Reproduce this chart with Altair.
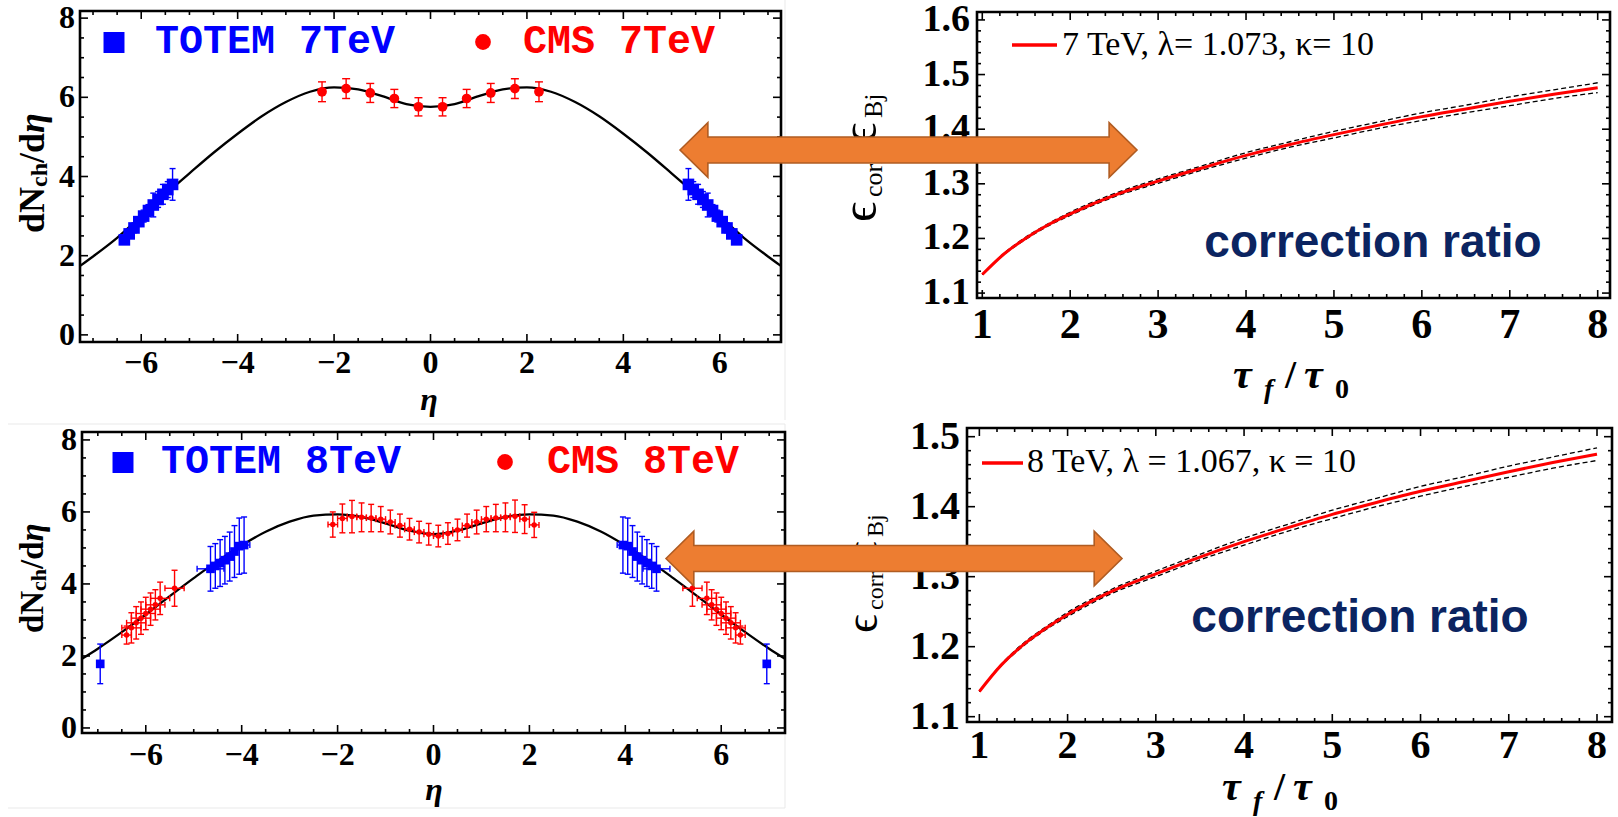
import altair as alt
import pandas as pd

SERIF = "Liberation Serif"
MONO = "Liberation Mono"
SANS = "Liberation Sans"
BLUE = "#0000ff"
RED = "#ff0000"
NAVY = "#0b2461"
ORANGE = "#ed7d31"
ORANGE_EDGE = "#b05c22"

# ---------------- top-left: 7 TeV ----------------
curve7_eta = [-7.27, -7.0, -6.5, -6.0, -5.5, -5.0, -4.5, -4.0, -3.5, -3.0, -2.5, -2.0, -1.5, -1.0, -0.5, 0.0,
              0.5, 1.0, 1.5, 2.0, 2.5, 3.0, 3.5, 4.0, 4.5, 5.0, 5.5, 6.0, 6.5, 7.0, 7.27]
curve7_val = [1.74, 1.98, 2.45, 3.0, 3.55, 4.08, 4.6, 5.08, 5.52, 5.88, 6.14, 6.25, 6.2, 6.03, 5.83, 5.76,
              5.83, 6.03, 6.2, 6.25, 6.14, 5.88, 5.52, 5.08, 4.6, 4.08, 3.55, 3.0, 2.45, 1.98, 1.74]
cms7_eta = [-2.25, -1.75, -1.25, -0.75, -0.25, 0.25, 0.75, 1.25, 1.75, 2.25]
cms7_val = [6.14, 6.22, 6.11, 5.97, 5.76, 5.76, 5.97, 6.11, 6.22, 6.14]
cms7_err = [0.25, 0.25, 0.24, 0.23, 0.23, 0.23, 0.23, 0.24, 0.25, 0.25]
totem7_eta = [-6.35, -6.25, -6.15, -6.05, -5.95, -5.85, -5.75, -5.65, -5.55, -5.45, -5.35,
              5.35, 5.45, 5.55, 5.65, 5.75, 5.85, 5.95, 6.05, 6.15, 6.25, 6.35]
totem7_val = [2.40, 2.55, 2.70, 2.86, 3.00, 3.14, 3.28, 3.42, 3.55, 3.67, 3.80,
              3.80, 3.67, 3.55, 3.42, 3.28, 3.14, 3.00, 2.86, 2.70, 2.55, 2.40]
totem7_err = [0.10, 0.10, 0.12, 0.12, 0.15, 0.15, 0.30, 0.20, 0.25, 0.20, 0.40,
              0.40, 0.20, 0.25, 0.20, 0.30, 0.15, 0.15, 0.12, 0.12, 0.10, 0.10]

# ---------------- bottom-left: 8 TeV ----------------
curve8_eta = [-7.33, -7.0, -6.5, -6.0, -5.5, -5.0, -4.5, -4.0, -3.5, -3.0, -2.5, -2.0, -1.5, -1.0, -0.5, 0.0,
              0.5, 1.0, 1.5, 2.0, 2.5, 3.0, 3.5, 4.0, 4.5, 5.0, 5.5, 6.0, 6.5, 7.0, 7.33]
curve8_val = [1.92, 2.2, 2.66, 3.15, 3.66, 4.16, 4.64, 5.07, 5.45, 5.73, 5.9, 5.93, 5.86, 5.68, 5.48, 5.38,
              5.48, 5.68, 5.86, 5.93, 5.9, 5.73, 5.45, 5.07, 4.64, 4.16, 3.66, 3.15, 2.66, 2.2, 1.92]
cms8c_eta = [-2.1, -1.9, -1.7, -1.5, -1.3, -1.1, -0.9, -0.7, -0.5, -0.3, -0.1,
             0.1, 0.3, 0.5, 0.7, 0.9, 1.1, 1.3, 1.5, 1.7, 1.9, 2.1]
cms8c_val = [5.65, 5.82, 5.87, 5.85, 5.83, 5.80, 5.72, 5.62, 5.52, 5.44, 5.38,
             5.33, 5.40, 5.50, 5.62, 5.72, 5.80, 5.83, 5.85, 5.88, 5.80, 5.64]
cms8c_err = [0.35, 0.40, 0.45, 0.40, 0.38, 0.35, 0.33, 0.32, 0.30, 0.30, 0.30,
             0.30, 0.30, 0.30, 0.32, 0.33, 0.35, 0.38, 0.40, 0.45, 0.40, 0.35]
cms8c_xerr = [0.1] * 22
cms8f_eta = [-6.4, -6.3, -6.2, -6.1, -6.0, -5.9, -5.8, -5.7, -5.4,
             5.4, 5.7, 5.8, 5.9, 6.0, 6.1, 6.2, 6.3, 6.4]
cms8f_val = [2.58, 2.78, 2.92, 3.05, 3.18, 3.30, 3.42, 3.60, 3.88,
             3.88, 3.60, 3.42, 3.30, 3.18, 3.05, 2.92, 2.78, 2.58]
cms8f_err = [0.25, 0.42, 0.45, 0.45, 0.45, 0.45, 0.42, 0.45, 0.50,
             0.50, 0.45, 0.42, 0.45, 0.45, 0.45, 0.45, 0.42, 0.25]
cms8f_xerr = [0.1, 0.2, 0.2, 0.2, 0.2, 0.2, 0.2, 0.2, 0.2,
              0.2, 0.2, 0.2, 0.2, 0.2, 0.2, 0.2, 0.2, 0.1]
totem8_eta = [-6.95, -4.65, -4.55, -4.45, -4.35, -4.25, -4.15, -4.05, -3.95,
              3.95, 4.05, 4.15, 4.25, 4.35, 4.45, 4.55, 4.65, 6.95]
totem8_val = [1.78, 4.42, 4.50, 4.58, 4.66, 4.76, 4.90, 5.05, 5.08,
              5.08, 5.05, 4.90, 4.76, 4.66, 4.58, 4.50, 4.42, 1.78]
totem8_err = [0.55, 0.62, 0.62, 0.65, 0.66, 0.68, 0.72, 0.78, 0.78,
              0.78, 0.78, 0.72, 0.68, 0.66, 0.65, 0.62, 0.62, 0.55]
totem8_xerr = [0.0, 0.28, 0.05, 0.05, 0.05, 0.05, 0.05, 0.05, 0.12,
               0.12, 0.05, 0.05, 0.05, 0.05, 0.05, 0.05, 0.28, 0.0]

# ---------------- right: correction ratio vs tau_f/tau_0 ----------------
tau = [1, 1.25, 1.5, 1.75, 2, 2.5, 3, 3.5, 4, 4.5, 5, 5.5, 6, 6.5, 7, 7.5, 8]
r7 = [1.134, 1.172, 1.201, 1.225, 1.245, 1.279, 1.305, 1.329, 1.352, 1.372, 1.390, 1.407, 1.423, 1.437, 1.451, 1.464, 1.476]
r7_hi = [1.134, 1.173, 1.203, 1.227, 1.248, 1.282, 1.309, 1.333, 1.357, 1.377, 1.396, 1.413, 1.430, 1.444, 1.459, 1.472, 1.485]
r7_lo = [1.134, 1.171, 1.199, 1.223, 1.242, 1.276, 1.301, 1.325, 1.347, 1.367, 1.384, 1.401, 1.416, 1.430, 1.443, 1.456, 1.467]
r8 = [1.136, 1.174, 1.203, 1.226, 1.246, 1.279, 1.304, 1.328, 1.350, 1.370, 1.389, 1.406, 1.422, 1.436, 1.450, 1.463, 1.475]
r8_hi = [1.136, 1.175, 1.205, 1.228, 1.249, 1.282, 1.308, 1.332, 1.355, 1.375, 1.395, 1.412, 1.429, 1.443, 1.458, 1.471, 1.484]
r8_lo = [1.136, 1.173, 1.201, 1.224, 1.243, 1.276, 1.300, 1.324, 1.345, 1.365, 1.383, 1.400, 1.415, 1.429, 1.442, 1.455, 1.466]

# ---------------- ticks & labels ----------------
eta_major = [-6, -4, -2, 0, 2, 4, 6]
eta_labels = ["\u22126", "\u22124", "\u22122", "0", "2", "4", "6"]
eta_minor = [-7, -6.5, -5.5, -5, -4.5, -3.5, -3, -2.5, -1.5, -1, -0.5, 0.5, 1, 1.5, 2.5, 3, 3.5, 4.5, 5, 5.5, 6.5, 7]
dn_major = [0, 2, 4, 6, 8]
dn_labels = ["0", "2", "4", "6", "8"]
dn_minor = [0.5, 1, 1.5, 2.5, 3, 3.5, 4.5, 5, 5.5, 6.5, 7, 7.5]
tau_major = [1, 2, 3, 4, 5, 6, 7, 8]
tau_labels = ["1", "2", "3", "4", "5", "6", "7", "8"]
tau_minor = [1.2, 1.4, 1.6, 1.8, 2.2, 2.4, 2.6, 2.8, 3.2, 3.4, 3.6, 3.8, 4.2, 4.4, 4.6, 4.8,
             5.2, 5.4, 5.6, 5.8, 6.2, 6.4, 6.6, 6.8, 7.2, 7.4, 7.6, 7.8]
ratio7_major = [1.1, 1.2, 1.3, 1.4, 1.5, 1.6]
ratio7_labels = ["1.1", "1.2", "1.3", "1.4", "1.5", "1.6"]
ratio7_minor = [1.12, 1.14, 1.16, 1.18, 1.22, 1.24, 1.26, 1.28, 1.32, 1.34, 1.36, 1.38,
                1.42, 1.44, 1.46, 1.48, 1.52, 1.54, 1.56, 1.58]
ratio8_major = [1.1, 1.2, 1.3, 1.4, 1.5]
ratio8_labels = ["1.1", "1.2", "1.3", "1.4", "1.5"]
ratio8_minor = [1.12, 1.14, 1.16, 1.18, 1.22, 1.24, 1.26, 1.28, 1.32, 1.34, 1.36, 1.38,
                1.42, 1.44, 1.46, 1.48]

legend_tl = ["TOTEM 7TeV", "CMS 7TeV"]
legend_bl = ["TOTEM 8TeV", "CMS 8TeV"]
legend_tr = "7 TeV, \u03bb= 1.073, \u03ba= 10"
legend_br = "8 TeV, \u03bb = 1.067, \u03ba = 10"
note_text = "correction ratio"

# ---------------- panel geometry (pixels) ----------------
P_TL = dict(x0=80, x1=781, y0=11, y1=342, xd=[-7.27, 7.27], yd=[-0.18, 8.18])
P_BL = dict(x0=82, x1=785, y0=432, y1=733, xd=[-7.33, 7.33], yd=[-0.14, 8.22])
P_TR = dict(x0=977, x1=1610, y0=12, y1=298, xd=[0.94, 8.14], yd=[1.091, 1.6145])
P_BR = dict(x0=967, x1=1612, y0=428, y1=722, xd=[0.86, 8.17], yd=[1.0924, 1.5124])


def xs(p):
    return alt.Scale(domain=p["xd"], range=[p["x0"], p["x1"]], nice=False, zero=False)


def ys(p):
    return alt.Scale(domain=p["yd"], range=[p["y1"], p["y0"]], nice=False, zero=False)


def ex(p, f="x"):
    return alt.X(f"{f}:Q", scale=xs(p), axis=None)


def ey(p, f="y"):
    return alt.Y(f"{f}:Q", scale=ys(p), axis=None)


def one():
    return pd.DataFrame({"a": [0]})


def frame(p, xmaj, xmin, ymaj, ymin, L=8, l=4):
    out = []
    for vals, ln in ((xmaj, L), (xmin, l)):
        d = pd.DataFrame({"x": vals})
        out.append(alt.Chart(d).mark_rule(color="black", strokeWidth=1.6).encode(
            x=ex(p), y=alt.value(p["y1"]), y2=alt.value(p["y1"] - ln)))
        out.append(alt.Chart(d).mark_rule(color="black", strokeWidth=1.6).encode(
            x=ex(p), y=alt.value(p["y0"]), y2=alt.value(p["y0"] + ln)))
    for vals, ln in ((ymaj, L), (ymin, l)):
        d = pd.DataFrame({"y": vals})
        out.append(alt.Chart(d).mark_rule(color="black", strokeWidth=1.6).encode(
            y=ey(p), x=alt.value(p["x0"]), x2=alt.value(p["x0"] + ln)))
        out.append(alt.Chart(d).mark_rule(color="black", strokeWidth=1.6).encode(
            y=ey(p), x=alt.value(p["x1"]), x2=alt.value(p["x1"] - ln)))
    out.append(alt.Chart(one()).mark_rect(fill="white", fillOpacity=0, stroke="black", strokeWidth=2.6).encode(
        x=alt.value(p["x0"]), x2=alt.value(p["x1"]), y=alt.value(p["y0"]), y2=alt.value(p["y1"])))
    return out


def xlabels(p, vals, labs, ypix, size):
    d = pd.DataFrame({"x": vals, "t": labs})
    return alt.Chart(d).mark_text(font=SERIF, fontWeight="bold", fontSize=size, align="center",
                                  baseline="middle", color="black").encode(
        x=ex(p), y=alt.value(ypix), text="t:N")


def ylabels(p, vals, labs, xpix, size):
    d = pd.DataFrame({"y": vals, "t": labs})
    return alt.Chart(d).mark_text(font=SERIF, fontWeight="bold", fontSize=size, align="right",
                                  baseline="middle", color="black").encode(
        y=ey(p), x=alt.value(xpix), text="t:N")


def yerr(p, xv, vv, ev, color, cap, w=1.4):
    d = pd.DataFrame({"x": xv, "v": vv, "e": ev})
    base = alt.Chart(d).transform_calculate(lo="datum.v - datum.e", hi="datum.v + datum.e")
    return [
        base.mark_rule(color=color, strokeWidth=w).encode(x=ex(p), y=ey(p, "lo"), y2=alt.Y2("hi:Q")),
        base.mark_tick(color=color, orient="horizontal", size=cap, thickness=w, opacity=1).encode(
            x=ex(p), y=ey(p, "lo")),
        base.mark_tick(color=color, orient="horizontal", size=cap, thickness=w, opacity=1).encode(
            x=ex(p), y=ey(p, "hi")),
    ]


def xerr(p, xv, vv, ev, color, cap, w=1.4):
    d = pd.DataFrame({"x": xv, "v": vv, "e": ev})
    base = alt.Chart(d).transform_calculate(lo="datum.x - datum.e", hi="datum.x + datum.e")
    return [
        base.mark_rule(color=color, strokeWidth=w).encode(y=ey(p, "v"), x=ex(p, "lo"), x2=alt.X2("hi:Q")),
        base.mark_tick(color=color, orient="vertical", size=cap, thickness=w, opacity=1).encode(
            y=ey(p, "v"), x=ex(p, "lo")),
        base.mark_tick(color=color, orient="vertical", size=cap, thickness=w, opacity=1).encode(
            y=ey(p, "v"), x=ex(p, "hi")),
    ]


def pts(p, xv, vv, color, shape, size):
    d = pd.DataFrame({"x": xv, "v": vv})
    return alt.Chart(d).mark_point(shape=shape, filled=True, color=color, size=size, opacity=1,
                                   strokeWidth=0).encode(x=ex(p), y=ey(p, "v"))


def line(p, xv, vv, color, width, dash=None):
    d = pd.DataFrame({"x": xv, "v": vv})
    kw = dict(color=color, strokeWidth=width, interpolate="monotone")
    if dash:
        kw["strokeDash"] = dash
    return alt.Chart(d).mark_line(**kw).encode(x=ex(p), y=ey(p, "v"))


def text(txt, x, y, size, font=SERIF, weight="normal", style="normal", color="black",
         align="left", baseline="alphabetic", angle=0):
    kw = dict(font=font, fontSize=size, fontWeight=weight, fontStyle=style, color=color,
              align=align, baseline=baseline)
    if angle:
        kw["angle"] = angle
    return alt.Chart(pd.DataFrame({"t": [txt]})).mark_text(**kw).encode(
        x=alt.value(x), y=alt.value(y), text="t:N")


def sym(x, y, shape, size, color):
    return alt.Chart(one()).mark_point(shape=shape, filled=True, color=color, size=size, opacity=1,
                                       strokeWidth=0).encode(x=alt.value(x), y=alt.value(y))


def hrule(x1, x2, y, color, width):
    return alt.Chart(one()).mark_rule(color=color, strokeWidth=width).encode(
        x=alt.value(x1), x2=alt.value(x2), y=alt.value(y))


def vrule(x, y1, y2, color, width):
    return alt.Chart(one()).mark_rule(color=color, strokeWidth=width).encode(
        x=alt.value(x), y=alt.value(y1), y2=alt.value(y2))


ARROW = ("M -1 0 L -0.878 -0.12 L -0.878 -0.057 L 0.878 -0.057 L 0.878 -0.12 L 1 0 "
         "L 0.878 0.12 L 0.878 0.057 L -0.878 0.057 L -0.878 0.12 Z")


def arrow(cx, cy, length):
    return alt.Chart(one()).mark_point(shape=ARROW, filled=True, fill=ORANGE, stroke=ORANGE_EDGE,
                                       strokeWidth=1.6, size=length * length, opacity=1,
                                       fillOpacity=1, strokeOpacity=1).encode(
        x=alt.value(cx), y=alt.value(cy))


layers = []

# faint borders of the pasted images
layers += [vrule(785, 0, 420, "#e9e9e9", 1), hrule(8, 785, 424, "#e9e9e9", 1),
           hrule(8, 785, 808, "#e9e9e9", 1), vrule(785, 424, 808, "#e9e9e9", 1)]

# ---------- top-left panel ----------
p = P_TL
layers += frame(p, eta_major, eta_minor, dn_major, dn_minor)
layers.append(line(p, curve7_eta, curve7_val, "black", 2.3))
layers += yerr(p, totem7_eta, totem7_val, totem7_err, BLUE, 6)
layers.append(pts(p, totem7_eta, totem7_val, BLUE, "square", 135))
layers += yerr(p, cms7_eta, cms7_val, cms7_err, RED, 8)
layers.append(pts(p, cms7_eta, cms7_val, RED, "circle", 95))
layers.append(xlabels(p, eta_major, eta_labels, 363, 32))
layers.append(ylabels(p, dn_major, dn_labels, 75, 32))
layers.append(text("\u03b7", 429, 410, 32, weight="bold", style="italic", align="center"))
layers += [text("dN", 44, 233, 36, weight="bold", angle=270),
           text("ch", 47, 187, 24, weight="bold", angle=270),
           text("/d", 44, 163, 36, weight="bold", angle=270),
           text("\u03b7", 44, 133, 36, weight="bold", style="italic", angle=270)]
layers += [sym(114, 42.5, "square", 440, BLUE),
           text(legend_tl[0], 155, 53, 40, font=MONO, weight="bold", color=BLUE),
           sym(483, 42, "circle", 250, RED),
           text(legend_tl[1], 523, 53, 40, font=MONO, weight="bold", color=RED)]

# ---------- bottom-left panel ----------
p = P_BL
layers += frame(p, eta_major, eta_minor, dn_major, dn_minor)
layers.append(line(p, curve8_eta, curve8_val, "black", 2.3))
layers += yerr(p, cms8c_eta, cms8c_val, cms8c_err, RED, 6)
layers += xerr(p, cms8c_eta, cms8c_val, cms8c_xerr, RED, 6)
layers.append(pts(p, cms8c_eta, cms8c_val, RED, "circle", 30))
layers += yerr(p, cms8f_eta, cms8f_val, cms8f_err, RED, 6)
layers += xerr(p, cms8f_eta, cms8f_val, cms8f_xerr, RED, 6)
layers.append(pts(p, cms8f_eta, cms8f_val, RED, "circle", 30))
layers += yerr(p, totem8_eta, totem8_val, totem8_err, BLUE, 6)
layers += xerr(p, totem8_eta, totem8_val, totem8_xerr, BLUE, 6)
layers.append(pts(p, totem8_eta, totem8_val, BLUE, "square", 75))
layers.append(xlabels(p, eta_major, eta_labels, 755, 32))
layers.append(ylabels(p, dn_major, dn_labels, 77, 32))
layers.append(text("\u03b7", 434, 800, 32, weight="bold", style="italic", align="center"))
layers += [text("dN", 43, 633, 33, weight="bold", angle=270),
           text("ch", 46, 591, 22, weight="bold", angle=270),
           text("/d", 43, 569, 33, weight="bold", angle=270),
           text("\u03b7", 43, 541.5, 33, weight="bold", style="italic", angle=270)]
layers += [sym(123, 462.5, "square", 440, BLUE),
           text(legend_bl[0], 161, 473, 40, font=MONO, weight="bold", color=BLUE),
           sym(505, 462, "circle", 250, RED),
           text(legend_bl[1], 547, 473, 40, font=MONO, weight="bold", color=RED)]

# ---------- top-right panel ----------
p = P_TR
layers += frame(p, tau_major, tau_minor, ratio7_major, ratio7_minor)
layers.append(line(p, tau, r7_hi, "black", 1.3, [5, 3]))
layers.append(line(p, tau, r7_lo, "black", 1.3, [5, 3]))
layers.append(line(p, tau, r7, RED, 3))
layers.append(xlabels(p, tau_major, tau_labels, 325, 42))
layers.append(ylabels(p, ratio7_major, ratio7_labels, 970, 38))
layers += [hrule(1012, 1057, 45, RED, 3.5), text(legend_tr, 1062, 55, 34)]
layers.append(text(note_text, 1373, 257, 46, font=SANS, weight="bold", color=NAVY, align="center"))
layers += [text("\u03c4", 1233, 388, 42, weight="bold", style="italic"),
           text("f", 1264, 398, 28, weight="bold", style="italic"),
           text("/", 1285, 388, 40, weight="bold"),
           text("\u03c4", 1304, 388, 42, weight="bold", style="italic"),
           text("0", 1335, 398, 28, weight="bold")]
layers += [text("\u03f5", 876, 222, 50, angle=270),
           text("corr", 882, 197, 26, angle=270),
           text("/", 876, 155, 44, angle=270),
           text("\u03f5", 876, 143, 50, angle=270),
           text("Bj", 882, 118, 26, angle=270)]

# ---------- bottom-right panel ----------
p = P_BR
layers += frame(p, tau_major, tau_minor, ratio8_major, ratio8_minor)
layers.append(line(p, tau, r8_hi, "black", 1.3, [5, 3]))
layers.append(line(p, tau, r8_lo, "black", 1.3, [5, 3]))
layers.append(line(p, tau, r8, RED, 3))
layers.append(xlabels(p, tau_major, tau_labels, 746, 40))
layers.append(ylabels(p, ratio8_major, ratio8_labels, 960, 40))
layers += [hrule(982, 1023, 463, RED, 3.5), text(legend_br, 1027, 472, 34)]
layers.append(text(note_text, 1360, 632, 46, font=SANS, weight="bold", color=NAVY, align="center"))
layers += [text("\u03c4", 1222, 800, 42, weight="bold", style="italic"),
           text("f", 1253, 810, 28, weight="bold", style="italic"),
           text("/", 1274, 800, 40, weight="bold"),
           text("\u03c4", 1293, 800, 42, weight="bold", style="italic"),
           text("0", 1324, 810, 28, weight="bold")]
layers += [text("\u03f5", 877, 633, 46, angle=270),
           text("corr", 883, 610, 24, angle=270),
           text("/", 877, 571, 40, angle=270),
           text("\u03f5", 877, 560, 46, angle=270),
           text("Bj", 883, 537, 24, angle=270)]

# ---------- arrows ----------
layers.append(arrow(908.5, 150, 457))
layers.append(arrow(894, 558.5, 456))

chart = alt.layer(*layers).properties(
    width=1618, height=817, padding=0,
    autosize=alt.AutoSizeParams(type="none"),
    background="white",
).resolve_scale(x="independent", y="independent").configure_view(stroke="transparent")

chart.save("out.html", embed_options={"renderer": "svg", "actions": False})
